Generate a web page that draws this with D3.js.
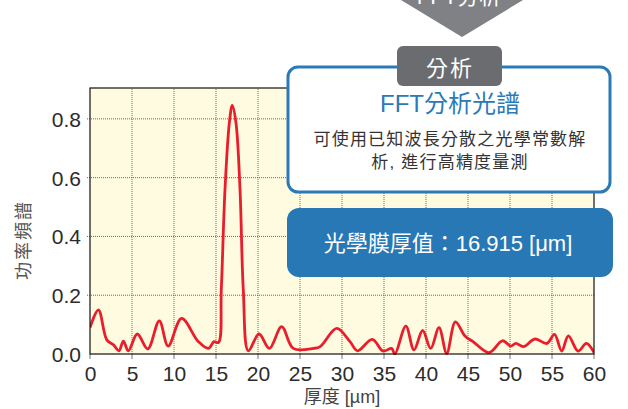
<!DOCTYPE html>
<html><head><meta charset="utf-8">
<script src="https://cdn.jsdelivr.net/npm/d3@7"></script>
<style>
html,body{margin:0;padding:0;background:#fff;}
svg{display:block;}
</style></head>
<body>
<script>
const thickness = [0, 1.0, 2.0, 2.8, 3.45, 3.97, 4.56, 5.63, 6.87, 8.25, 9.3, 10.9, 12.9, 14.1, 14.76, 15.3, 15.63, 16.07, 16.59, 16.94, 17.38, 17.86, 18.25, 18.85, 20.12, 21.35, 22.82, 24.2, 26.6, 27.4, 29.37, 30.95, 31.85, 33.6, 34.9, 35.9, 36.3, 37.6, 38.57, 39.6, 40.56, 41.55, 42.46, 43.5, 44.64, 45.6, 47.5, 49.1, 50.08, 50.7, 51.6, 52.98, 54.4, 55.3, 56.15, 56.95, 58.1, 59.1, 60];
const power = [0.09, 0.15, 0.048, 0.031, 0.011, 0.044, 0.011, 0.068, 0.017, 0.113, 0.027, 0.121, 0.042, 0.019, 0.042, 0.039, 0.218, 0.559, 0.787, 0.846, 0.786, 0.559, 0.218, 0.011, 0.068, 0.019, 0.093, 0.019, 0.019, 0.025, 0.087, 0.042, 0.011, 0.05, 0.01, 0.019, 0.0, 0.095, 0.014, 0.08, 0.019, 0.09, 0.002, 0.109, 0.061, 0.042, 0.005, 0.045, 0.027, 0.036, 0.025, 0.051, 0.036, 0.067, 0.01, 0.062, 0.01, 0.036, 0.005];
const xTicks = [0, 5, 10, 15, 20, 25, 30, 35, 40, 45, 50, 55, 60];
const yTicks = [0.0, 0.2, 0.4, 0.6, 0.8];
const xTitle = "厚度 [µm]";
const yTitle = "功率頻譜";
const arrowText = "FFT分析";
const tabText = "分析";
const boxTitle = "FFT分析光譜";
const boxLines = ["可使用已知波長分散之光學常數解", "析, 進行高精度量測"];
const resultText = "光學膜厚值：16.915 [μm]";

const W = 628, H = 409;
const latin = "'Liberation Sans', Arial, 'Noto Sans CJK TC', sans-serif";
const cjk = "'Liberation Sans', 'Noto Sans CJK TC', sans-serif";

const svg = d3.select("body").append("svg").attr("width", W).attr("height", H);

const x = d3.scaleLinear().domain([0, 60]).range([90, 594]);
const y = d3.scaleLinear().domain([0, 0.905]).range([354, 88]);

// plot background
svg.append("rect").attr("x", x(0)).attr("y", y(0.905)).attr("width", x(60) - x(0)).attr("height", y(0) - y(0.905)).attr("fill", "#fefbe0");

// grid
const g = svg.append("g");
g.selectAll(".vg").data(xTicks.slice(1, -1)).enter().append("line")
  .attr("x1", d => x(d)).attr("x2", d => x(d)).attr("y1", y(0)).attr("y2", y(0.905))
  .attr("stroke", "#6a6a6a").attr("stroke-width", 1).attr("stroke-dasharray", "1,1");
g.selectAll(".hg").data(yTicks.slice(1)).enter().append("line")
  .attr("x1", x(0) - 3).attr("x2", x(60)).attr("y1", d => y(d)).attr("y2", d => y(d))
  .attr("stroke", "#6a6a6a").attr("stroke-width", 1).attr("stroke-dasharray", "1,1");
// small bottom ticks
g.selectAll(".bt").data(xTicks).enter().append("line")
  .attr("x1", d => x(d)).attr("x2", d => x(d)).attr("y1", y(0)).attr("y2", y(0) + 5)
  .attr("stroke", "#777").attr("stroke-width", 1);

// clip
svg.append("clipPath").attr("id", "clip").append("rect")
  .attr("x", x(0)).attr("y", y(0.905)).attr("width", x(60) - x(0)).attr("height", y(0) - y(0.905) + 1);

const data = thickness.map((t, i) => [t, power[i]]);
const line = d3.line().x(d => x(d[0])).y(d => y(d[1])).curve(d3.curveCatmullRom.alpha(0.5));
svg.append("path").datum(data).attr("d", line).attr("fill", "none")
  .attr("stroke", "#ea1d2a").attr("stroke-width", 2.8).attr("stroke-linejoin", "round")
  .attr("clip-path", "url(#clip)");

// border
svg.append("rect").attr("x", x(0)).attr("y", y(0.905)).attr("width", x(60) - x(0)).attr("height", y(0) - y(0.905))
  .attr("fill", "none").attr("stroke", "#111").attr("stroke-width", 1.2);

// axes labels
const xAxis = d3.axisBottom(x).tickValues(xTicks).tickSize(0).tickPadding(12).tickFormat(d3.format("d"));
const xa = svg.append("g").attr("transform", `translate(0,${y(0)})`).call(xAxis);
xa.select(".domain").remove();
xa.selectAll("text").attr("font-family", latin).attr("font-size", 21).attr("fill", "#2b2b2b");

const yAxis = d3.axisLeft(y).tickValues(yTicks).tickSize(0).tickPadding(9).tickFormat(d3.format(".1f"));
const ya = svg.append("g").attr("transform", `translate(${x(0)},0)`).call(yAxis);
ya.select(".domain").remove();
ya.selectAll("text").attr("font-family", latin).attr("font-size", 21).attr("fill", "#2b2b2b").attr("dy", "0.36em");

svg.append("text").attr("x", 342).attr("y", 403).attr("text-anchor", "middle")
  .attr("font-family", cjk).attr("font-size", 18).attr("fill", "#444").text(xTitle);
svg.append("text").attr("transform", "translate(30,240) rotate(-90)").attr("text-anchor", "middle")
  .attr("font-family", cjk).attr("font-size", 18).attr("letter-spacing", 2).attr("fill", "#555").text(yTitle);

// top arrow
svg.append("path").attr("d", "M368,-20 L556,-20 L462,37 Z").attr("fill", "#808185");
svg.append("text").attr("x", 459).attr("y", 4).attr("text-anchor", "middle")
  .attr("font-family", cjk).attr("font-size", 22).attr("fill", "#fff").text(arrowText);

// white callout box
svg.append("rect").attr("x", 288).attr("y", 67).attr("width", 322).attr("height", 125).attr("rx", 10)
  .attr("fill", "#fff").attr("stroke", "#2a7ab8").attr("stroke-width", 3);
svg.append("rect").attr("x", 397).attr("y", 46).attr("width", 105).attr("height", 40).attr("rx", 6)
  .attr("fill", "#6b6c70");
svg.append("text").attr("x", 450).attr("y", 76).attr("text-anchor", "middle")
  .attr("font-family", cjk).attr("font-size", 22).attr("letter-spacing", 2).attr("fill", "#fff").text(tabText);
svg.append("text").attr("x", 450).attr("y", 112).attr("text-anchor", "middle")
  .attr("font-family", cjk).attr("font-size", 24).attr("fill", "#2a7ab8").text(boxTitle);
boxLines.forEach((t, i) => {
  svg.append("text").attr("x", 450).attr("y", 145 + i * 23).attr("text-anchor", "middle")
    .attr("font-family", cjk).attr("font-size", 17).attr("letter-spacing", 1.2).attr("fill", "#333").text(t);
});

// blue result box
svg.append("rect").attr("x", 287).attr("y", 208).attr("width", 326).attr("height", 69).attr("rx", 12)
  .attr("fill", "#2878b5");
svg.append("text").attr("x", 448).attr("y", 251).attr("text-anchor", "middle")
  .attr("font-family", cjk).attr("font-size", 22).attr("fill", "#fff").text(resultText);
</script>
</body></html>
